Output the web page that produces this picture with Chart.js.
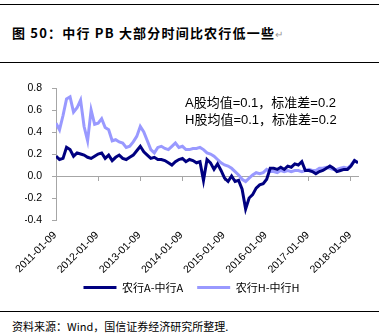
<!DOCTYPE html>
<html><head><meta charset="utf-8">
<script src="https://cdn.jsdelivr.net/npm/chart.js@4/dist/chart.umd.min.js"></script>
<style>
html,body{margin:0;padding:0;background:#fff;}
#wrap{position:relative;width:379px;height:336px;overflow:hidden;font-family:"Liberation Sans","Noto Sans CJK SC",sans-serif;}
.hr{position:absolute;left:0;width:379px;height:1px;background:#000;}
#title{position:absolute;left:12px;top:23px;font:bold 13px "Noto Sans CJK SC",sans-serif;letter-spacing:1.2px;color:#000;white-space:nowrap;}
#title span{color:#999;font-weight:normal;font-size:10px;}
#note{position:absolute;left:185px;top:94px;font:13px "Liberation Sans","Noto Sans CJK SC",sans-serif;line-height:17px;color:#000;white-space:nowrap;}
#src{position:absolute;left:12px;top:318px;font:11px "Noto Sans CJK SC",sans-serif;letter-spacing:0px;color:#000;white-space:nowrap;}
#cv{position:absolute;left:0;top:62px;}
</style></head>
<body><div id="wrap">
<div class="hr" style="top:4px"></div>
<div id="title">图 50：中行 PB 大部分时间比农行低一些<span>↵</span></div>
<div class="hr" style="top:62px"></div>
<canvas id="cv" width="379" height="248"></canvas>
<div id="note">A股均值=0.1，标准差=0.2<br>H股均值=0.1，标准差=0.2</div>
<div class="hr" style="top:311px"></div>
<div id="src">资料来源：Wind，国信证券经济研究所整理.</div>
</div>
<script>
// monthly sample dates (2011-01-09 … 2018-03-09)
const dates = [];
for (let y = 2011; y <= 2018; y++) for (let m = 1; m <= 12; m++) {
  if (y === 2018 && m > 3) break;
  dates.push(y + '-' + String(m).padStart(2, '0') + '-09');
}
const seriesNames = ['农行A-中行A', '农行H-中行H'];
const seriesA = [
0.18,0.15,0.16,0.26,0.24,0.18,0.21,0.20,0.19,0.17,0.16,0.18,
0.20,0.21,0.16,0.19,0.14,0.17,0.19,0.16,0.15,0.17,0.19,0.23,
0.27,0.22,0.19,0.16,0.17,0.15,0.15,0.14,0.12,0.10,0.13,0.15,
0.16,0.13,0.15,0.14,0.12,0.13,-0.04,0.15,0.12,0.06,0.11,0.05,
-0.02,-0.05,0.00,-0.05,-0.04,-0.12,-0.30,-0.20,-0.17,-0.11,-0.08,-0.07,
-0.03,0.07,0.07,0.06,0.08,0.06,0.09,0.08,0.11,0.10,0.13,0.05,
0.05,0.04,0.02,0.04,0.05,0.07,0.09,0.07,0.04,0.05,0.06,0.06,
0.09,0.14,0.12];
const seriesH = [
0.48,0.42,0.55,0.70,0.72,0.58,0.62,0.69,0.45,0.32,0.60,0.47,
0.48,0.52,0.44,0.42,0.32,0.33,0.31,0.30,0.26,0.27,0.31,0.36,
0.45,0.40,0.32,0.24,0.21,0.26,0.27,0.25,0.24,0.27,0.30,0.26,
0.27,0.24,0.24,0.25,0.25,0.26,0.24,0.21,0.20,0.18,0.15,0.12,
0.10,0.09,0.07,0.04,0.01,-0.03,-0.05,-0.02,0.01,0.03,0.02,0.03,
0.06,0.04,0.04,0.03,0.05,0.04,0.05,0.04,0.05,0.05,0.04,0.05,
0.06,0.05,0.05,0.07,0.07,0.08,0.07,0.06,0.06,0.07,0.08,0.07,
0.10,0.14,0.12];
const yearTicks = [2011,2012,2013,2014,2015,2016,2017,2018];
const xTickLabels = yearTicks.map(y => y + '-01-09');
const yTicks = [-0.4,-0.2,0.0,0.2,0.4,0.6,0.8];

function toX(s){ const p = s.split('-').map(Number); return p[0] + (p[1]-1)/12 + (p[2]-9)/365; }
const pts = arr => arr.map((v,i) => ({x: toX(dates[i]), y: v}));
const xMin = 2011, xMax = toX(dates[dates.length-1]);
const setYearTicks = s => { s.ticks = yearTicks.map(v => ({value: v})); };
const gray = '#A6A6A6';
const tickFont = { size: 10.5, family: '"Liberation Sans",Arial,sans-serif' };

// rotated date labels under the x axis, placed at the scale's tick pixels
const xLabels = {
  id: 'xLabels',
  afterDraw(chart) {
    const s = chart.scales.x, ctx = chart.ctx;
    ctx.save();
    ctx.font = '10.5px "Liberation Sans", Arial, sans-serif';
    ctx.fillStyle = '#000';
    ctx.textAlign = 'right';
    ctx.textBaseline = 'middle';
    yearTicks.forEach((v, i) => {
      ctx.save();
      ctx.translate(s.getPixelForValue(v) - 1, s.top + 13.5);
      ctx.rotate(-Math.PI / 4);
      ctx.fillText(xTickLabels[i], 0, 0);
      ctx.restore();
    });
    ctx.restore();
  }
};

new Chart(document.getElementById('cv'), {
  type: 'line',
  data: { datasets: [
    { label: seriesNames[0], data: pts(seriesA), borderColor: '#000080', backgroundColor: '#000080', borderWidth: 3, pointRadius: 0, tension: 0 },
    { label: seriesNames[1], data: pts(seriesH), borderColor: '#9999FF', backgroundColor: '#9999FF', borderWidth: 3, pointRadius: 0, tension: 0 }
  ]},
  plugins: [xLabels],
  options: {
    responsive: false, animation: false, devicePixelRatio: 1,
    layout: { padding: { top: 26, left: 25, right: 21, bottom: 7 } },
    plugins: {
      tooltip: { enabled: false },
      legend: { position: 'bottom', labels: {
        boxWidth: 33, boxHeight: 3, padding: 14, color: '#000',
        font: { size: 11, family: '"Noto Sans CJK SC","Liberation Sans",sans-serif' },
        generateLabels: ch => Chart.defaults.plugins.legend.labels.generateLabels(ch).map(l => Object.assign(l, {lineWidth: 0}))
      }}
    },
    scales: {
      x: { type: 'linear', min: xMin, max: xMax,
        afterBuildTicks: setYearTicks,
        afterFit: s => { s.height = 48; },
        grid: { display: false }, border: { display: false },
        ticks: { display: false } },
      x0: { type: 'linear', axis: 'x', position: { y: 0 }, min: xMin, max: xMax,
        afterBuildTicks: setYearTicks,
        grid: { drawOnChartArea: false, drawTicks: true, tickLength: 4, color: gray },
        border: { display: true, color: gray, width: 1 },
        ticks: { display: false } },
      y: { min: -0.4, max: 0.8,
        afterBuildTicks: s => { s.ticks = yTicks.map(v => ({value: v})); },
        afterFit: s => { s.width = 31; },
        grid: { drawOnChartArea: false, drawTicks: true, tickLength: 4, color: gray },
        border: { display: true, color: gray, width: 1 },
        ticks: { padding: 10, color: '#000', font: tickFont,
          callback: v => Number(v).toFixed(1) } }
    }
  }
});
</script>
</body></html>
